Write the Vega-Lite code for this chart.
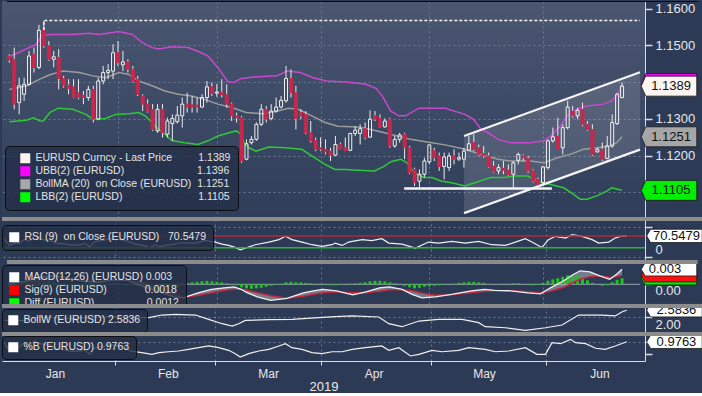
{
"$schema": "https://vega.github.io/schema/vega-lite/v6.json",
"background": "#2c3a56",
"padding": 0,
"spacing": 0,
"bounds": "flush",
"config": {
 "view": {"stroke": null},
 "axis": {"gridColor": "#6a7790", "gridDash": [2, 3], "gridOpacity": 1, "gridWidth": 1, "domainColor": "#dcdcdc", "tickColor": "#dcdcdc", "labelColor": "#e8e8e8", "labelFont": "Liberation Sans", "labelFontSize": 13, "titleFont": "Liberation Sans", "titleFontSize": 13, "titleFontWeight": "normal", "titleColor": "#e8e8e8", "tickSize": 7, "tickWidth": 1.5, "domainWidth": 1},
 "legend": {"labelColor": "#e4e4e4", "labelFont": "Liberation Sans", "labelFontSize": 10.5, "labelLimit": 400, "symbolType": "square", "symbolSize": 100, "symbolStrokeWidth": 0, "symbolOpacity": 1, "fillColor": "rgba(36,48,72,0.82)", "strokeColor": "#0c0e14", "cornerRadius": 4, "padding": 6, "rowPadding": 2, "labelOffset": 5}
},
"resolve": {"scale": {"color": "independent", "fill": "independent", "stroke": "independent"}, "legend": {"color": "independent"}},
"datasets": {
 "candles": [
  {"i":0,"o":1.1471,"h":1.1476,"l":1.1453,"c":1.1460},
  {"i":1,"o":1.1462,"h":1.1494,"l":1.1326,"c":1.1340},
  {"i":2,"o":1.1344,"h":1.1412,"l":1.1312,"c":1.1390},
  {"i":3,"o":1.1367,"h":1.1412,"l":1.1349,"c":1.1394},
  {"i":4,"o":1.1394,"h":1.1485,"l":1.1390,"c":1.1471},
  {"i":5,"o":1.1476,"h":1.1494,"l":1.1426,"c":1.1440},
  {"i":6,"o":1.1440,"h":1.1556,"l":1.1435,"c":1.1541},
  {"i":7,"o":1.1541,"h":1.1567,"l":1.1494,"c":1.1499},
  {"i":8,"o":1.1499,"h":1.1512,"l":1.1458,"c":1.1462},
  {"i":9,"o":1.1462,"h":1.1485,"l":1.1440,"c":1.1469},
  {"i":10,"o":1.1467,"h":1.1490,"l":1.1380,"c":1.1410},
  {"i":11,"o":1.1410,"h":1.1417,"l":1.1385,"c":1.1390},
  {"i":12,"o":1.1392,"h":1.1408,"l":1.1367,"c":1.1383},
  {"i":13,"o":1.1387,"h":1.1408,"l":1.1356,"c":1.1358},
  {"i":14,"o":1.1371,"h":1.1408,"l":1.1353,"c":1.1358},
  {"i":15,"o":1.1364,"h":1.1376,"l":1.1340,"c":1.1358},
  {"i":16,"o":1.1358,"h":1.1390,"l":1.1349,"c":1.1380},
  {"i":17,"o":1.1380,"h":1.1390,"l":1.1290,"c":1.1299},
  {"i":18,"o":1.1299,"h":1.1412,"l":1.1296,"c":1.1403},
  {"i":19,"o":1.1403,"h":1.1444,"l":1.1394,"c":1.1426},
  {"i":20,"o":1.1426,"h":1.1449,"l":1.1408,"c":1.1432},
  {"i":21,"o":1.1430,"h":1.1503,"l":1.1408,"c":1.1480},
  {"i":22,"o":1.1480,"h":1.1512,"l":1.1444,"c":1.1453},
  {"i":23,"o":1.1447,"h":1.1485,"l":1.1430,"c":1.1455},
  {"i":24,"o":1.1455,"h":1.1462,"l":1.1426,"c":1.1435},
  {"i":25,"o":1.1435,"h":1.1444,"l":1.1399,"c":1.1403},
  {"i":26,"o":1.1408,"h":1.1417,"l":1.1362,"c":1.1367},
  {"i":27,"o":1.1362,"h":1.1367,"l":1.1321,"c":1.1340},
  {"i":28,"o":1.1340,"h":1.1353,"l":1.1317,"c":1.1321},
  {"i":29,"o":1.1326,"h":1.1340,"l":1.1267,"c":1.1271},
  {"i":30,"o":1.1267,"h":1.1340,"l":1.1262,"c":1.1326},
  {"i":31,"o":1.1326,"h":1.1340,"l":1.1249,"c":1.1262},
  {"i":32,"o":1.1258,"h":1.1303,"l":1.1249,"c":1.1294},
  {"i":33,"o":1.1287,"h":1.1312,"l":1.1240,"c":1.1301},
  {"i":34,"o":1.1292,"h":1.1335,"l":1.1287,"c":1.1310},
  {"i":35,"o":1.1308,"h":1.1358,"l":1.1276,"c":1.1340},
  {"i":36,"o":1.1340,"h":1.1371,"l":1.1317,"c":1.1332},
  {"i":37,"o":1.1338,"h":1.1362,"l":1.1317,"c":1.1332},
  {"i":38,"o":1.1337,"h":1.1358,"l":1.1317,"c":1.1332},
  {"i":39,"o":1.1332,"h":1.1367,"l":1.1330,"c":1.1358},
  {"i":40,"o":1.1358,"h":1.1403,"l":1.1344,"c":1.1387},
  {"i":41,"o":1.1387,"h":1.1399,"l":1.1362,"c":1.1369},
  {"i":42,"o":1.1370,"h":1.1395,"l":1.1360,"c":1.1373},
  {"i":43,"o":1.1372,"h":1.1408,"l":1.1358,"c":1.1366},
  {"i":44,"o":1.1366,"h":1.1394,"l":1.1330,"c":1.1340},
  {"i":45,"o":1.1340,"h":1.1344,"l":1.1294,"c":1.1308},
  {"i":46,"o":1.1308,"h":1.1317,"l":1.1290,"c":1.1303},
  {"i":47,"o":1.1303,"h":1.1308,"l":1.1180,"c":1.1185},
  {"i":48,"o":1.1190,"h":1.1244,"l":1.1187,"c":1.1232},
  {"i":49,"o":1.1235,"h":1.1253,"l":1.1230,"c":1.1244},
  {"i":50,"o":1.1244,"h":1.1290,"l":1.1240,"c":1.1285},
  {"i":51,"o":1.1285,"h":1.1340,"l":1.1280,"c":1.1326},
  {"i":52,"o":1.1326,"h":1.1335,"l":1.1290,"c":1.1299},
  {"i":53,"o":1.1301,"h":1.1340,"l":1.1296,"c":1.1321},
  {"i":54,"o":1.1321,"h":1.1358,"l":1.1317,"c":1.1332},
  {"i":55,"o":1.1332,"h":1.1362,"l":1.1328,"c":1.1350},
  {"i":56,"o":1.1349,"h":1.1444,"l":1.1344,"c":1.1410},
  {"i":57,"o":1.1410,"h":1.1435,"l":1.1358,"c":1.1371},
  {"i":58,"o":1.1371,"h":1.1390,"l":1.1271,"c":1.1301},
  {"i":59,"o":1.1317,"h":1.1326,"l":1.1299,"c":1.1308},
  {"i":60,"o":1.1312,"h":1.1321,"l":1.1258,"c":1.1262},
  {"i":61,"o":1.1262,"h":1.1294,"l":1.1235,"c":1.1240},
  {"i":62,"o":1.1241,"h":1.1249,"l":1.1212,"c":1.1217},
  {"i":63,"o":1.1221,"h":1.1249,"l":1.1212,"c":1.1217},
  {"i":64,"o":1.1217,"h":1.1244,"l":1.1203,"c":1.1210},
  {"i":65,"o":1.1212,"h":1.1221,"l":1.1185,"c":1.1201},
  {"i":66,"o":1.1201,"h":1.1253,"l":1.1199,"c":1.1230},
  {"i":67,"o":1.1230,"h":1.1235,"l":1.1217,"c":1.1219},
  {"i":68,"o":1.1221,"h":1.1249,"l":1.1212,"c":1.1214},
  {"i":69,"o":1.1214,"h":1.1262,"l":1.1212,"c":1.1260},
  {"i":70,"o":1.1260,"h":1.1280,"l":1.1253,"c":1.1269},
  {"i":71,"o":1.1260,"h":1.1285,"l":1.1230,"c":1.1273},
  {"i":72,"o":1.1273,"h":1.1290,"l":1.1244,"c":1.1249},
  {"i":73,"o":1.1250,"h":1.1323,"l":1.1249,"c":1.1299},
  {"i":74,"o":1.1308,"h":1.1321,"l":1.1294,"c":1.1299},
  {"i":75,"o":1.1301,"h":1.1312,"l":1.1276,"c":1.1278},
  {"i":76,"o":1.1278,"h":1.1301,"l":1.1276,"c":1.1294},
  {"i":77,"o":1.1299,"h":1.1303,"l":1.1221,"c":1.1226},
  {"i":78,"o":1.1226,"h":1.1253,"l":1.1221,"c":1.1244},
  {"i":79,"o":1.1244,"h":1.1262,"l":1.1235,"c":1.1256},
  {"i":80,"o":1.1258,"h":1.1262,"l":1.1190,"c":1.1221},
  {"i":81,"o":1.1221,"h":1.1226,"l":1.1149,"c":1.1153},
  {"i":82,"o":1.1162,"h":1.1167,"l":1.1117,"c":1.1126},
  {"i":83,"o":1.1130,"h":1.1162,"l":1.1112,"c":1.1149},
  {"i":84,"o":1.1149,"h":1.1194,"l":1.1140,"c":1.1185},
  {"i":85,"o":1.1183,"h":1.1230,"l":1.1176,"c":1.1229},
  {"i":86,"o":1.1214,"h":1.1221,"l":1.1185,"c":1.1194},
  {"i":87,"o":1.1199,"h":1.1208,"l":1.1158,"c":1.1170},
  {"i":88,"o":1.1170,"h":1.1208,"l":1.1135,"c":1.1196},
  {"i":89,"o":1.1167,"h":1.1208,"l":1.1158,"c":1.1199},
  {"i":90,"o":1.1199,"h":1.1217,"l":1.1176,"c":1.1190},
  {"i":91,"o":1.1190,"h":1.1208,"l":1.1185,"c":1.1194},
  {"i":92,"o":1.1190,"h":1.1221,"l":1.1167,"c":1.1212},
  {"i":93,"o":1.1214,"h":1.1253,"l":1.1212,"c":1.1232},
  {"i":94,"o":1.1235,"h":1.1258,"l":1.1212,"c":1.1217},
  {"i":95,"o":1.1221,"h":1.1230,"l":1.1199,"c":1.1203},
  {"i":96,"o":1.1205,"h":1.1226,"l":1.1194,"c":1.1199},
  {"i":97,"o":1.1199,"h":1.1208,"l":1.1167,"c":1.1170},
  {"i":98,"o":1.1171,"h":1.1185,"l":1.1153,"c":1.1156},
  {"i":99,"o":1.1158,"h":1.1176,"l":1.1149,"c":1.1167},
  {"i":100,"o":1.1165,"h":1.1185,"l":1.1149,"c":1.1160},
  {"i":101,"o":1.1160,"h":1.1176,"l":1.1144,"c":1.1147},
  {"i":102,"o":1.1149,"h":1.1185,"l":1.1112,"c":1.1180},
  {"i":103,"o":1.1187,"h":1.1208,"l":1.1176,"c":1.1203},
  {"i":104,"o":1.1199,"h":1.1203,"l":1.1185,"c":1.1194},
  {"i":105,"o":1.1192,"h":1.1199,"l":1.1153,"c":1.1158},
  {"i":106,"o":1.1158,"h":1.1162,"l":1.1126,"c":1.1130},
  {"i":107,"o":1.1135,"h":1.1140,"l":1.1120,"c":1.1121},
  {"i":108,"o":1.1126,"h":1.1171,"l":1.1117,"c":1.1169},
  {"i":109,"o":1.1167,"h":1.1244,"l":1.1162,"c":1.1240},
  {"i":110,"o":1.1240,"h":1.1276,"l":1.1235,"c":1.1251},
  {"i":111,"o":1.1253,"h":1.1303,"l":1.1217,"c":1.1217},
  {"i":112,"o":1.1221,"h":1.1285,"l":1.1203,"c":1.1276},
  {"i":113,"o":1.1276,"h":1.1349,"l":1.1271,"c":1.1332},
  {"i":114,"o":1.1321,"h":1.1335,"l":1.1303,"c":1.1308},
  {"i":115,"o":1.1308,"h":1.1330,"l":1.1299,"c":1.1323},
  {"i":116,"o":1.1326,"h":1.1344,"l":1.1280,"c":1.1285},
  {"i":117,"o":1.1285,"h":1.1294,"l":1.1267,"c":1.1271},
  {"i":118,"o":1.1271,"h":1.1285,"l":1.1199,"c":1.1203},
  {"i":119,"o":1.1210,"h":1.1221,"l":1.1208,"c":1.1217},
  {"i":120,"o":1.1217,"h":1.1235,"l":1.1185,"c":1.1190},
  {"i":121,"o":1.1192,"h":1.1253,"l":1.1190,"c":1.1226},
  {"i":122,"o":1.1226,"h":1.1312,"l":1.1221,"c":1.1290},
  {"i":123,"o":1.1287,"h":1.1371,"l":1.1283,"c":1.1367},
  {"i":124,"o":1.1358,"h":1.1399,"l":1.1356,"c":1.1389}
 ],
 "bands": [
  {"s":"UBB(2) (EURUSD)","i":0,"v":1.1469},{"s":"UBB(2) (EURUSD)","i":5.5,"v":1.1503},{"s":"UBB(2) (EURUSD)","i":6.5,"v":1.1526},{"s":"UBB(2) (EURUSD)","i":8.2,"v":1.1530},{"s":"UBB(2) (EURUSD)","i":12.9,"v":1.1530},{"s":"UBB(2) (EURUSD)","i":16.2,"v":1.1533},{"s":"UBB(2) (EURUSD)","i":18.2,"v":1.1530},{"s":"UBB(2) (EURUSD)","i":22.2,"v":1.1538},{"s":"UBB(2) (EURUSD)","i":24.9,"v":1.1530},{"s":"UBB(2) (EURUSD)","i":26.9,"v":1.1508},{"s":"UBB(2) (EURUSD)","i":28.9,"v":1.1494},{"s":"UBB(2) (EURUSD)","i":30.2,"v":1.1490},{"s":"UBB(2) (EURUSD)","i":32.9,"v":1.1496},{"s":"UBB(2) (EURUSD)","i":36.2,"v":1.1494},{"s":"UBB(2) (EURUSD)","i":38.9,"v":1.1480},{"s":"UBB(2) (EURUSD)","i":40.2,"v":1.1471},{"s":"UBB(2) (EURUSD)","i":42.2,"v":1.1440},{"s":"UBB(2) (EURUSD)","i":44.2,"v":1.1401},{"s":"UBB(2) (EURUSD)","i":45.5,"v":1.1399},{"s":"UBB(2) (EURUSD)","i":46.9,"v":1.1410},{"s":"UBB(2) (EURUSD)","i":49.5,"v":1.1414},{"s":"UBB(2) (EURUSD)","i":54.2,"v":1.1417},{"s":"UBB(2) (EURUSD)","i":56.2,"v":1.1430},{"s":"UBB(2) (EURUSD)","i":58.9,"v":1.1426},{"s":"UBB(2) (EURUSD)","i":61.5,"v":1.1412},{"s":"UBB(2) (EURUSD)","i":64.2,"v":1.1403},{"s":"UBB(2) (EURUSD)","i":68.2,"v":1.1400},{"s":"UBB(2) (EURUSD)","i":72.2,"v":1.1394},{"s":"UBB(2) (EURUSD)","i":74.2,"v":1.1383},{"s":"UBB(2) (EURUSD)","i":75.5,"v":1.1362},{"s":"UBB(2) (EURUSD)","i":77.2,"v":1.1321},{"s":"UBB(2) (EURUSD)","i":78.9,"v":1.1308},{"s":"UBB(2) (EURUSD)","i":80.2,"v":1.1308},{"s":"UBB(2) (EURUSD)","i":82.9,"v":1.1329},{"s":"UBB(2) (EURUSD)","i":88.2,"v":1.1329},{"s":"UBB(2) (EURUSD)","i":92.2,"v":1.1312},{"s":"UBB(2) (EURUSD)","i":93.9,"v":1.1299},{"s":"UBB(2) (EURUSD)","i":95.5,"v":1.1271},{"s":"UBB(2) (EURUSD)","i":96.9,"v":1.1262},{"s":"UBB(2) (EURUSD)","i":98.9,"v":1.1244},{"s":"UBB(2) (EURUSD)","i":101.5,"v":1.1235},{"s":"UBB(2) (EURUSD)","i":105.5,"v":1.1235},{"s":"UBB(2) (EURUSD)","i":108.2,"v":1.1240},{"s":"UBB(2) (EURUSD)","i":109.5,"v":1.1253},{"s":"UBB(2) (EURUSD)","i":111.5,"v":1.1280},{"s":"UBB(2) (EURUSD)","i":112.9,"v":1.1308},{"s":"UBB(2) (EURUSD)","i":114.9,"v":1.1326},{"s":"UBB(2) (EURUSD)","i":116.9,"v":1.1335},{"s":"UBB(2) (EURUSD)","i":120.2,"v":1.1340},{"s":"UBB(2) (EURUSD)","i":121.9,"v":1.1349},{"s":"UBB(2) (EURUSD)","i":123.2,"v":1.1367},{"s":"UBB(2) (EURUSD)","i":124,"v":1.1396},
  {"s":"BollMA (20)  on Close (EURUSD)","i":0,"v":1.1380},{"s":"BollMA (20)  on Close (EURUSD)","i":3.5,"v":1.1390},{"s":"BollMA (20)  on Close (EURUSD)","i":6.2,"v":1.1408},{"s":"BollMA (20)  on Close (EURUSD)","i":8.2,"v":1.1420},{"s":"BollMA (20)  on Close (EURUSD)","i":10.9,"v":1.1430},{"s":"BollMA (20)  on Close (EURUSD)","i":14.2,"v":1.1426},{"s":"BollMA (20)  on Close (EURUSD)","i":16.9,"v":1.1417},{"s":"BollMA (20)  on Close (EURUSD)","i":19.5,"v":1.1412},{"s":"BollMA (20)  on Close (EURUSD)","i":22.2,"v":1.1426},{"s":"BollMA (20)  on Close (EURUSD)","i":24.2,"v":1.1421},{"s":"BollMA (20)  on Close (EURUSD)","i":26.2,"v":1.1403},{"s":"BollMA (20)  on Close (EURUSD)","i":28.9,"v":1.1390},{"s":"BollMA (20)  on Close (EURUSD)","i":31.5,"v":1.1376},{"s":"BollMA (20)  on Close (EURUSD)","i":34.2,"v":1.1367},{"s":"BollMA (20)  on Close (EURUSD)","i":36.9,"v":1.1362},{"s":"BollMA (20)  on Close (EURUSD)","i":39.5,"v":1.1353},{"s":"BollMA (20)  on Close (EURUSD)","i":42.2,"v":1.1340},{"s":"BollMA (20)  on Close (EURUSD)","i":45.2,"v":1.1330},{"s":"BollMA (20)  on Close (EURUSD)","i":47.9,"v":1.1317},{"s":"BollMA (20)  on Close (EURUSD)","i":51.2,"v":1.1314},{"s":"BollMA (20)  on Close (EURUSD)","i":53.9,"v":1.1320},{"s":"BollMA (20)  on Close (EURUSD)","i":56.5,"v":1.1329},{"s":"BollMA (20)  on Close (EURUSD)","i":58.5,"v":1.1326},{"s":"BollMA (20)  on Close (EURUSD)","i":61.2,"v":1.1308},{"s":"BollMA (20)  on Close (EURUSD)","i":63.9,"v":1.1290},{"s":"BollMA (20)  on Close (EURUSD)","i":66.5,"v":1.1280},{"s":"BollMA (20)  on Close (EURUSD)","i":70.5,"v":1.1278},{"s":"BollMA (20)  on Close (EURUSD)","i":73.2,"v":1.1271},{"s":"BollMA (20)  on Close (EURUSD)","i":75.9,"v":1.1262},{"s":"BollMA (20)  on Close (EURUSD)","i":78.5,"v":1.1253},{"s":"BollMA (20)  on Close (EURUSD)","i":81.2,"v":1.1244},{"s":"BollMA (20)  on Close (EURUSD)","i":83.9,"v":1.1238},{"s":"BollMA (20)  on Close (EURUSD)","i":88.2,"v":1.1229},{"s":"BollMA (20)  on Close (EURUSD)","i":92.2,"v":1.1217},{"s":"BollMA (20)  on Close (EURUSD)","i":95.5,"v":1.1203},{"s":"BollMA (20)  on Close (EURUSD)","i":98.9,"v":1.1190},{"s":"BollMA (20)  on Close (EURUSD)","i":101.5,"v":1.1185},{"s":"BollMA (20)  on Close (EURUSD)","i":105.5,"v":1.1185},{"s":"BollMA (20)  on Close (EURUSD)","i":108.2,"v":1.1180},{"s":"BollMA (20)  on Close (EURUSD)","i":110.9,"v":1.1194},{"s":"BollMA (20)  on Close (EURUSD)","i":113.5,"v":1.1203},{"s":"BollMA (20)  on Close (EURUSD)","i":116.2,"v":1.1217},{"s":"BollMA (20)  on Close (EURUSD)","i":118.9,"v":1.1221},{"s":"BollMA (20)  on Close (EURUSD)","i":121.5,"v":1.1226},{"s":"BollMA (20)  on Close (EURUSD)","i":122.9,"v":1.1235},{"s":"BollMA (20)  on Close (EURUSD)","i":124,"v":1.1251},
  {"s":"LBB(2) (EURUSD)","i":0,"v":1.1292},{"s":"LBB(2) (EURUSD)","i":3.5,"v":1.1296},{"s":"LBB(2) (EURUSD)","i":4.9,"v":1.1303},{"s":"LBB(2) (EURUSD)","i":6.2,"v":1.1294},{"s":"LBB(2) (EURUSD)","i":6.9,"v":1.1294},{"s":"LBB(2) (EURUSD)","i":8.2,"v":1.1317},{"s":"LBB(2) (EURUSD)","i":9.9,"v":1.1329},{"s":"LBB(2) (EURUSD)","i":12.9,"v":1.1326},{"s":"LBB(2) (EURUSD)","i":15.5,"v":1.1312},{"s":"LBB(2) (EURUSD)","i":16.9,"v":1.1299},{"s":"LBB(2) (EURUSD)","i":19.5,"v":1.1301},{"s":"LBB(2) (EURUSD)","i":21.5,"v":1.1312},{"s":"LBB(2) (EURUSD)","i":24.2,"v":1.1314},{"s":"LBB(2) (EURUSD)","i":26.2,"v":1.1317},{"s":"LBB(2) (EURUSD)","i":27.5,"v":1.1308},{"s":"LBB(2) (EURUSD)","i":28.9,"v":1.1290},{"s":"LBB(2) (EURUSD)","i":30.2,"v":1.1271},{"s":"LBB(2) (EURUSD)","i":31.5,"v":1.1258},{"s":"LBB(2) (EURUSD)","i":32.9,"v":1.1241},{"s":"LBB(2) (EURUSD)","i":35.5,"v":1.1235},{"s":"LBB(2) (EURUSD)","i":38.2,"v":1.1230},{"s":"LBB(2) (EURUSD)","i":40.2,"v":1.1240},{"s":"LBB(2) (EURUSD)","i":42.2,"v":1.1253},{"s":"LBB(2) (EURUSD)","i":44.5,"v":1.1262},{"s":"LBB(2) (EURUSD)","i":45.9,"v":1.1267},{"s":"LBB(2) (EURUSD)","i":46.9,"v":1.1258},{"s":"LBB(2) (EURUSD)","i":47.5,"v":1.1235},{"s":"LBB(2) (EURUSD)","i":48.5,"v":1.1221},{"s":"LBB(2) (EURUSD)","i":49.9,"v":1.1212},{"s":"LBB(2) (EURUSD)","i":52.5,"v":1.1223},{"s":"LBB(2) (EURUSD)","i":55.9,"v":1.1221},{"s":"LBB(2) (EURUSD)","i":59.2,"v":1.1217},{"s":"LBB(2) (EURUSD)","i":61.2,"v":1.1199},{"s":"LBB(2) (EURUSD)","i":63.9,"v":1.1176},{"s":"LBB(2) (EURUSD)","i":65.9,"v":1.1162},{"s":"LBB(2) (EURUSD)","i":67.9,"v":1.1162},{"s":"LBB(2) (EURUSD)","i":70.5,"v":1.1160},{"s":"LBB(2) (EURUSD)","i":73.9,"v":1.1158},{"s":"LBB(2) (EURUSD)","i":75.9,"v":1.1171},{"s":"LBB(2) (EURUSD)","i":77.2,"v":1.1183},{"s":"LBB(2) (EURUSD)","i":79.2,"v":1.1190},{"s":"LBB(2) (EURUSD)","i":80.5,"v":1.1180},{"s":"LBB(2) (EURUSD)","i":81.9,"v":1.1153},{"s":"LBB(2) (EURUSD)","i":83.9,"v":1.1140},{"s":"LBB(2) (EURUSD)","i":85.5,"v":1.1140},{"s":"LBB(2) (EURUSD)","i":87.5,"v":1.1130},{"s":"LBB(2) (EURUSD)","i":89.5,"v":1.1126},{"s":"LBB(2) (EURUSD)","i":92.2,"v":1.1117},{"s":"LBB(2) (EURUSD)","i":94.2,"v":1.1126},{"s":"LBB(2) (EURUSD)","i":96.2,"v":1.1135},{"s":"LBB(2) (EURUSD)","i":97.5,"v":1.1140},{"s":"LBB(2) (EURUSD)","i":100.2,"v":1.1140},{"s":"LBB(2) (EURUSD)","i":102.2,"v":1.1144},{"s":"LBB(2) (EURUSD)","i":104.9,"v":1.1144},{"s":"LBB(2) (EURUSD)","i":106.9,"v":1.1130},{"s":"LBB(2) (EURUSD)","i":109.5,"v":1.1121},{"s":"LBB(2) (EURUSD)","i":112.2,"v":1.1112},{"s":"LBB(2) (EURUSD)","i":114.2,"v":1.1094},{"s":"LBB(2) (EURUSD)","i":115.5,"v":1.1081},{"s":"LBB(2) (EURUSD)","i":116.9,"v":1.1081},{"s":"LBB(2) (EURUSD)","i":118.9,"v":1.1090},{"s":"LBB(2) (EURUSD)","i":120.9,"v":1.1103},{"s":"LBB(2) (EURUSD)","i":121.9,"v":1.1112},{"s":"LBB(2) (EURUSD)","i":123.2,"v":1.1108},{"s":"LBB(2) (EURUSD)","i":124,"v":1.1105}
 ],
 "channel": [{"i":92.03,"lo":1.1043,"hi":1.1253},{"i":127.63,"lo":1.1216,"hi":1.1427}],
 "support": [{"i":79.9,"p":1.1110},{"i":109.8,"p":1.1110}],
 "hiline": [{"k":0,"i":7,"p":1.1542},{"k":1,"i":7,"p":1.1568},{"k":2,"i":127.63,"p":1.1568}],
 "mainTags": [{"k":"UBB","v":1.1396},{"k":"MA","v":1.1251},{"k":"LBB","v":1.1105},{"k":"Last","v":1.1389}],
 "rsi": [
  {"i":0,"v":60},{"i":1,"v":38},{"i":2,"v":45},{"i":3,"v":46},{"i":4,"v":58},{"i":5,"v":52},{"i":6,"v":70},{"i":7,"v":62},{"i":8,"v":56},{"i":9,"v":57},{"i":10,"v":47},{"i":11,"v":44},{"i":12,"v":43},{"i":13,"v":40},{"i":14,"v":40},{"i":15,"v":40},{"i":16,"v":45},{"i":17,"v":33},{"i":18,"v":50},{"i":19,"v":54},{"i":20,"v":55},{"i":21,"v":63},{"i":22,"v":58},{"i":23,"v":58},{"i":24,"v":55},{"i":25,"v":49},{"i":26,"v":43},{"i":27,"v":40},{"i":28,"v":37},{"i":29,"v":30},{"i":30,"v":40},{"i":31,"v":33},{"i":32,"v":38},{"i":33,"v":40},{"i":34,"v":42},{"i":35,"v":47},{"i":36,"v":46},{"i":37,"v":46},{"i":38,"v":46},{"i":39,"v":50},{"i":40,"v":55},{"i":41,"v":51.7},{"i":42,"v":49.3},{"i":43.4,"v":42.4},{"i":44.7,"v":37.9},{"i":46,"v":31},{"i":47,"v":23.1},{"i":48,"v":28.6},{"i":50,"v":40.3},{"i":52.7,"v":49.3},{"i":54.7,"v":57.6},{"i":56,"v":69},{"i":57.3,"v":57.6},{"i":59.3,"v":49.3},{"i":61.3,"v":40.3},{"i":63.3,"v":34.5},{"i":65.3,"v":40.3},{"i":65.9,"v":45.9},{"i":67.3,"v":37.9},{"i":68.6,"v":49.3},{"i":69.3,"v":51.7},{"i":71.3,"v":57.6},{"i":73.2,"v":54.1},{"i":75.2,"v":61},{"i":76.6,"v":45.9},{"i":79.2,"v":42.4},{"i":81.9,"v":28.6},{"i":84.5,"v":49.3},{"i":86.5,"v":45.9},{"i":89.2,"v":51.7},{"i":91.8,"v":45.9},{"i":94.5,"v":51.7},{"i":97.1,"v":40.3},{"i":99.8,"v":37.9},{"i":101.8,"v":49.3},{"i":103.8,"v":61},{"i":105.1,"v":49.3},{"i":107.1,"v":31},{"i":108.4,"v":57.6},{"i":109.8,"v":69},{"i":111.8,"v":63.1},{"i":113.1,"v":74.8},{"i":115.1,"v":69},{"i":117.1,"v":57.6},{"i":118.4,"v":45.9},{"i":120.4,"v":49.3},{"i":121.7,"v":63.1},{"i":122.7,"v":69},{"i":124,"v":70.55}
 ],
 "macd": [
  {"i":0,"m":0.0002,"s":-0.0004},{"i":3,"m":0.0006,"s":0.0000},{"i":6,"m":0.0014,"s":0.0005},{"i":9,"m":0.0018,"s":0.0010},{"i":12,"m":0.0012,"s":0.0013},{"i":15,"m":0.0006,"s":0.0011},{"i":18,"m":0.0004,"s":0.0009},{"i":21,"m":0.0009,"s":0.0008},{"i":24,"m":0.0008,"s":0.0009},{"i":27,"m":-0.0004,"s":0.0005},{"i":30,"m":-0.0014,"s":-0.0002},{"i":33,"m":-0.0024,"s":-0.0012},{"i":35.2,"m":-0.0027,"s":-0.0026},{"i":38.2,"m":-0.0017,"s":-0.0022},{"i":40.9,"m":-0.0010,"s":-0.0017},{"i":43.5,"m":-0.0007,"s":-0.0012},{"i":45.5,"m":-0.0005,"s":-0.0010},{"i":46.9,"m":-0.0010,"s":-0.0010},{"i":48.2,"m":-0.0017,"s":-0.0012},{"i":50.2,"m":-0.0025,"s":-0.0017},{"i":52.9,"m":-0.0032,"s":-0.0023},{"i":56.2,"m":-0.0028,"s":-0.0028},{"i":59.5,"m":-0.0017,"s":-0.0024},{"i":61.5,"m":-0.0013,"s":-0.0020},{"i":63.5,"m":-0.0010,"s":-0.0017},{"i":66.2,"m":-0.0013,"s":-0.0015},{"i":69.5,"m":-0.0021,"s":-0.0017},{"i":72.2,"m":-0.0015,"s":-0.0017},{"i":74.9,"m":-0.0007,"s":-0.0014},{"i":76.9,"m":-0.0005,"s":-0.0011},{"i":79.5,"m":-0.0010,"s":-0.0011},{"i":81.5,"m":-0.0020,"s":-0.0013},{"i":83.5,"m":-0.0027,"s":-0.0018},{"i":86.2,"m":-0.0025,"s":-0.0022},{"i":89.5,"m":-0.0020,"s":-0.0021},{"i":93.5,"m":-0.0013,"s":-0.0017},{"i":96.2,"m":-0.0010,"s":-0.0014},{"i":98.2,"m":-0.0012,"s":-0.0013},{"i":101.5,"m":-0.0013,"s":-0.0013},{"i":104.9,"m":-0.0017,"s":-0.0015},{"i":107.5,"m":-0.0019,"s":-0.0017},{"i":109.5,"m":-0.0007,"s":-0.0014},{"i":112.2,"m":0.0007,"s":-0.0006},{"i":114.2,"m":0.0020,"s":0.0004},{"i":115.5,"m":0.0027,"s":0.0010},{"i":117.5,"m":0.0025,"s":0.0015},{"i":119.5,"m":0.0017,"s":0.0017},{"i":121.5,"m":0.0010,"s":0.0014},{"i":122.9,"m":0.0020,"s":0.0015},{"i":124,"m":0.0030,"s":0.0018}
 ],
 "hist": [
  {"i":0,"d":0.0004},{"i":1,"d":0.0003},{"i":2,"d":0.0003},{"i":3,"d":0.0004},{"i":4,"d":0.0005},{"i":5,"d":0.0006},{"i":6,"d":0.0008},{"i":7,"d":0.0009},{"i":8,"d":0.0008},{"i":9,"d":0.0006},{"i":10,"d":0.0003},{"i":11,"d":0.0001},{"i":12,"d":-0.0001},{"i":13,"d":-0.0003},{"i":14,"d":-0.0004},{"i":15,"d":-0.0005},{"i":16,"d":-0.0005},{"i":17,"d":-0.0006},{"i":18,"d":-0.0004},{"i":19,"d":-0.0002},{"i":20,"d":0.0000},{"i":21,"d":0.0002},{"i":22,"d":0.0002},{"i":23,"d":0.0001},{"i":24,"d":0.0000},{"i":25,"d":-0.0002},{"i":26,"d":-0.0003},{"i":27,"d":-0.0005},{"i":28,"d":-0.0006},{"i":29,"d":-0.0008},{"i":30,"d":-0.0009},{"i":31,"d":-0.0010},{"i":32,"d":-0.0010},{"i":33,"d":-0.0008},{"i":34,"d":-0.0005},
  {"i":35,"d":0.0002},{"i":36,"d":0.0003},{"i":37,"d":0.0004},{"i":38,"d":0.0005},{"i":39,"d":0.0006},{"i":40,"d":0.0007},{"i":41,"d":0.0006},{"i":42,"d":0.0005},{"i":43,"d":0.0004},{"i":44,"d":0.0002},{"i":45,"d":0.0000},{"i":46,"d":-0.0002},{"i":47,"d":-0.0006},{"i":48,"d":-0.0008},{"i":49,"d":-0.0009},{"i":50,"d":-0.0008},{"i":51,"d":-0.0007},{"i":52,"d":-0.0005},{"i":53,"d":-0.0003},{"i":54,"d":-0.0001},{"i":55,"d":0.0001},{"i":56,"d":0.0004},{"i":57,"d":0.0005},{"i":58,"d":0.0004},{"i":59,"d":0.0004},{"i":60,"d":0.0003},{"i":61,"d":0.0002},{"i":62,"d":0.0001},{"i":63,"d":0.0000},{"i":64,"d":-0.0001},{"i":65,"d":-0.0002},{"i":66,"d":-0.0002},{"i":67,"d":-0.0001},{"i":68,"d":0.0000},{"i":69,"d":0.0001},{"i":70,"d":0.0002},{"i":71,"d":0.0003},{"i":72,"d":0.0004},{"i":73,"d":0.0006},{"i":74,"d":0.0007},{"i":75,"d":0.0007},{"i":76,"d":0.0006},{"i":77,"d":0.0004},{"i":78,"d":0.0002},{"i":79,"d":0.0000},{"i":80,"d":-0.0003},{"i":81,"d":-0.0006},{"i":82,"d":-0.0008},{"i":83,"d":-0.0007},{"i":84,"d":-0.0005},{"i":85,"d":-0.0004},{"i":86,"d":-0.0003},{"i":87,"d":-0.0002},{"i":88,"d":-0.0001},{"i":89,"d":0.0000},{"i":90,"d":0.0001},{"i":91,"d":0.0003},{"i":92,"d":0.0004},{"i":93,"d":0.0005},{"i":94,"d":0.0005},{"i":95,"d":0.0004},{"i":96,"d":0.0003},{"i":97,"d":0.0001},{"i":98,"d":0.0000},{"i":99,"d":-0.0001},{"i":100,"d":0.0000},{"i":101,"d":0.0001},{"i":102,"d":0.0002},{"i":103,"d":0.0002},{"i":104,"d":0.0000},{"i":105,"d":-0.0001},{"i":106,"d":-0.0002},{"i":107,"d":-0.0001},{"i":108,"d":0.0003},{"i":109,"d":0.0007},{"i":110,"d":0.0010},{"i":111,"d":0.0012},{"i":112,"d":0.0015},{"i":113,"d":0.0018},{"i":114,"d":0.0019},{"i":115,"d":0.0016},{"i":116,"d":0.0012},{"i":117,"d":0.0008},{"i":118,"d":0.0003},{"i":119,"d":0.0000},{"i":120,"d":-0.0003},{"i":121,"d":-0.0002},{"i":122,"d":0.0004},{"i":123,"d":0.0009},{"i":124,"d":0.0012}
 ],
 "bw": [
  {"i":0,"v":1.70},{"i":2,"v":1.70},{"i":4,"v":1.68},{"i":6,"v":1.95},{"i":8,"v":2.0},{"i":10,"v":1.95},{"i":13,"v":1.85},{"i":16,"v":1.95},{"i":19,"v":2.0},{"i":22,"v":2.02},{"i":25,"v":1.95},{"i":28.8,"v":1.94},{"i":31.4,"v":2.17},{"i":34.1,"v":2.23},{"i":38.1,"v":2.17},{"i":40.7,"v":1.80},{"i":43.4,"v":1.42},{"i":45.4,"v":1.22},{"i":46.7,"v":1.42},{"i":48,"v":1.71},{"i":52.7,"v":1.77},{"i":57.3,"v":1.80},{"i":62.6,"v":1.94},{"i":65.9,"v":2.03},{"i":69.3,"v":2.09},{"i":74.6,"v":2.0},{"i":76.6,"v":1.42},{"i":79.2,"v":1.16},{"i":82.6,"v":1.65},{"i":86.5,"v":1.80},{"i":91.2,"v":1.80},{"i":94.5,"v":1.51},{"i":95.8,"v":1.16},{"i":99.8,"v":1.07},{"i":103.8,"v":0.85},{"i":107.8,"v":1.07},{"i":111.1,"v":1.31},{"i":114.4,"v":2.17},{"i":119.1,"v":2.17},{"i":121.7,"v":2.09},{"i":123.1,"v":2.46},{"i":124,"v":2.5836}
 ],
 "pb": [
  {"i":0,"v":0.95},{"i":1,"v":0.25},{"i":2,"v":0.55},{"i":3,"v":0.6},{"i":4,"v":0.9},{"i":5,"v":0.7},{"i":6,"v":1.05},{"i":7,"v":0.85},{"i":8,"v":0.75},{"i":9,"v":0.75},{"i":10,"v":0.45},{"i":11,"v":0.4},{"i":12,"v":0.35},{"i":13,"v":0.25},{"i":14,"v":0.25},{"i":15,"v":0.25},{"i":16,"v":0.35},{"i":17,"v":0.0},{"i":18,"v":0.48},{"i":19,"v":0.6},{"i":20,"v":0.6},{"i":21,"v":0.8},{"i":22,"v":0.68},{"i":23,"v":0.68},{"i":24,"v":0.6},{"i":25.1,"v":0.26},{"i":27.4,"v":0.13},{"i":29.4,"v":0.0},{"i":30.8,"v":0.13},{"i":32.7,"v":0.2},{"i":34.7,"v":0.26},{"i":36.7,"v":0.39},{"i":38.7,"v":0.52},{"i":40.7,"v":0.65},{"i":42.7,"v":0.52},{"i":44.7,"v":0.31},{"i":46,"v":0.05},{"i":47,"v":-0.21},{"i":48.7,"v":0.05},{"i":50.7,"v":0.26},{"i":52.7,"v":0.39},{"i":54.7,"v":0.65},{"i":56,"v":0.83},{"i":57.3,"v":0.52},{"i":59.3,"v":0.39},{"i":61.3,"v":0.13},{"i":63.3,"v":0.05},{"i":65.3,"v":0.2},{"i":67.3,"v":0.2},{"i":69.3,"v":0.39},{"i":71.9,"v":0.52},{"i":75.2,"v":0.65},{"i":76.6,"v":0.31},{"i":78.6,"v":0.52},{"i":80.9,"v":-0.13},{"i":82.6,"v":0.0},{"i":85.2,"v":0.31},{"i":87.2,"v":0.2},{"i":90.5,"v":0.31},{"i":92.5,"v":0.52},{"i":95.8,"v":0.39},{"i":97.8,"v":0.2},{"i":100.5,"v":0.26},{"i":103.8,"v":0.52},{"i":106.1,"v":0.0},{"i":107.8,"v":0.0},{"i":109.1,"v":0.91},{"i":110.8,"v":0.83},{"i":112.8,"v":1.17},{"i":113.8,"v":0.91},{"i":115.8,"v":0.83},{"i":117.8,"v":0.47},{"i":119.7,"v":0.39},{"i":121.7,"v":0.65},{"i":124,"v":0.9763}
 ]
},
"vconcat": [
 {
  "width": 643, "height": 218,
  "view": {"stroke": null, "fill": {"gradient": "linear", "x1": 0, "y1": 0, "x2": 0, "y2": 1, "stops": [{"offset": 0, "color": "#4b5771"}, {"offset": 1, "color": "#2f3d59"}]}},
  "data": {"name": "candles"},
  "layer": [
   {"data": {"name": "channel"}, "mark": {"type": "area", "color": "#ffffff", "opacity": 0.13},
    "encoding": {"x": {"field": "i", "type": "quantitative", "scale": {"domain": [-0.46, 127.63], "nice": false, "zero": false}, "axis": {"grid": true, "values": [22, 42, 63, 85, 108], "labels": false, "ticks": false, "domain": false, "title": null}},
     "y": {"field": "lo", "type": "quantitative", "scale": {"domain": [1.1027, 1.1621], "nice": false, "zero": false}, "axis": {"orient": "right", "values": [1.11, 1.12, 1.13, 1.14, 1.15, 1.16], "labelExpr": "abs(datum.value - 1.14) < 0.001 || abs(datum.value - 1.11) < 0.001 ? '' : format(datum.value, '.4f')", "grid": true, "gridOpacity": {"condition": {"test": "datum.value > 1.155", "value": 0}, "value": 1}, "title": null, "labelPadding": 3}}, "y2": {"field": "hi"}}},
   {"data": {"values": [{}]}, "mark": {"type": "rule", "color": "#0a0a0a", "strokeWidth": 1.2},
    "encoding": {"x": {"datum": -0.46, "type": "quantitative"}, "x2": {"datum": 139.3}, "y": {"datum": 1.16196, "type": "quantitative"}}},
   {"data": {"name": "bands"}, "mark": {"type": "line", "strokeWidth": 1.5},
    "encoding": {"x": {"field": "i", "type": "quantitative"}, "y": {"field": "v", "type": "quantitative"},
     "stroke": {"field": "s", "type": "nominal", "scale": {"domain": ["UBB(2) (EURUSD)", "BollMA (20)  on Close (EURUSD)", "LBB(2) (EURUSD)"], "range": ["#c848cc", "#9c9c9c", "#2fc83a"]}, "legend": null}}},
   {"data": {"name": "bands"}, "mark": {"type": "square", "filled": true, "opacity": 0},
    "encoding": {"x": {"field": "i", "type": "quantitative"}, "y": {"field": "v", "type": "quantitative"},
     "color": {"field": "s", "type": "nominal",
      "scale": {"domain": ["EURUSD Curncy - Last Price", "UBB(2) (EURUSD)", "BollMA (20)  on Close (EURUSD)", "LBB(2) (EURUSD)"], "range": ["#fff4ee", "#ff00ff", "#a6a6a6", "#00ff00"]},
      "legend": {"title": null, "orient": "none", "legendX": 3, "legendY": 145, "symbolOffset": 8, "padding": 7,
       "labelExpr": "datum.label == 'EURUSD Curncy - Last Price' ? 'EURUSD Curncy - Last Price\u00a0\u00a0\u00a0\u00a0\u00a0\u00a0\u00a0\u00a0\u00a01.1389' : datum.label == 'UBB(2) (EURUSD)' ? 'UBB(2) (EURUSD)\u00a0\u00a0\u00a0\u00a0\u00a0\u00a0\u00a0\u00a0\u00a0\u00a0\u00a0\u00a0\u00a0\u00a0\u00a0\u00a0\u00a0\u00a0\u00a0\u00a0\u00a0\u00a0\u00a0\u00a0\u00a01.1396' : datum.label == 'LBB(2) (EURUSD)' ? 'LBB(2) (EURUSD)\u00a0\u00a0\u00a0\u00a0\u00a0\u00a0\u00a0\u00a0\u00a0\u00a0\u00a0\u00a0\u00a0\u00a0\u00a0\u00a0\u00a0\u00a0\u00a0\u00a0\u00a0\u00a0\u00a0\u00a0\u00a0\u00a01.1105' : 'BollMA (20)\u00a0 on Close (EURUSD)\u00a0\u00a01.1251'"}}}},
   {"mark": {"type": "rule", "color": "#ececec", "strokeWidth": 1},
    "encoding": {"x": {"field": "i", "type": "quantitative"}, "y": {"field": "h", "type": "quantitative"}, "y2": {"field": "c"}}},
   {"mark": {"type": "rule", "color": "#ececec", "strokeWidth": 1},
    "encoding": {"x": {"field": "i", "type": "quantitative"}, "y": {"field": "o", "type": "quantitative"}, "y2": {"field": "l"}}},
   {"mark": {"type": "bar", "size": 3, "strokeWidth": 1},
    "encoding": {"x": {"field": "i", "type": "quantitative"}, "y": {"field": "o", "type": "quantitative"}, "y2": {"field": "c"},
     "color": {"condition": {"test": "datum.c < datum.o", "value": "#c8284c"}, "value": "transparent"},
     "stroke": {"condition": {"test": "datum.c < datum.o", "value": "#c8284c"}, "value": "#f0f0f0"}}},
   {"data": {"name": "channel"}, "mark": {"type": "line", "color": "#f4f4f4", "strokeWidth": 2.2},
    "encoding": {"x": {"field": "i", "type": "quantitative"}, "y": {"field": "hi", "type": "quantitative"}}},
   {"data": {"name": "channel"}, "mark": {"type": "line", "color": "#f4f4f4", "strokeWidth": 2.2},
    "encoding": {"x": {"field": "i", "type": "quantitative"}, "y": {"field": "lo", "type": "quantitative"}}},
   {"data": {"name": "support"}, "mark": {"type": "line", "color": "#f4f4f4", "strokeWidth": 2.5},
    "encoding": {"x": {"field": "i", "type": "quantitative"}, "y": {"field": "p", "type": "quantitative"}}},
   {"data": {"name": "hiline"}, "mark": {"type": "line", "color": "#f4f4f4", "strokeWidth": 1.5, "strokeDash": [3, 2]},
    "encoding": {"x": {"field": "i", "type": "quantitative"}, "y": {"field": "p", "type": "quantitative"}, "order": {"field": "k"}}},
   {"data": {"name": "mainTags"}, "mark": {"type": "point", "shape": "M-1,0L-0.84,-0.36L1,-0.36L1,0.36L-0.84,0.36Z", "size": 3080, "filled": true, "opacity": 1, "stroke": "#1a1a1a", "strokeWidth": 0.8},
    "encoding": {"x": {"datum": 133.5, "type": "quantitative"}, "y": {"field": "v", "type": "quantitative"},
     "fill": {"field": "k", "type": "nominal", "scale": {"domain": ["UBB", "MA", "LBB", "Last"], "range": ["#ff00ff", "#a6a6a6", "#00ee00", "#fff5f0"]}, "legend": null}}},
   {"data": {"name": "mainTags"}, "transform": [{"filter": "datum.k != 'UBB'"}], "mark": {"type": "text", "font": "Liberation Sans", "fontSize": 13, "color": "#111111", "align": "center", "baseline": "middle", "dx": 2},
    "encoding": {"x": {"datum": 133.5, "type": "quantitative"}, "y": {"field": "v", "type": "quantitative"}, "text": {"field": "v", "format": ".4f"}}}
  ]
 },
 {
  "width": 643, "height": 43,
  "view": {"stroke": null, "fill": "#2c3a56"},
  "data": {"name": "rsi"},
  "layer": [
   {"mark": {"type": "line", "color": "#f0f0f0", "strokeWidth": 1.2},
    "encoding": {"x": {"field": "i", "type": "quantitative", "scale": {"domain": [-0.46, 127.63], "nice": false, "zero": false}, "axis": {"grid": true, "values": [22, 42, 63, 85, 108], "labels": false, "ticks": false, "domain": false, "title": null}},
     "y": {"field": "v", "type": "quantitative", "scale": {"domain": [-18.8, 128.2], "nice": false, "zero": false}, "axis": {"orient": "right", "values": [0, 100], "labelExpr": "datum.value == 0 ? '0' : ''", "labelBaseline": "bottom", "grid": true, "title": null, "labelPadding": 3}}}},
   {"data": {"values": [{}]}, "mark": {"type": "rule", "color": "#b02838", "strokeWidth": 1.5},
    "encoding": {"x": {"datum": -0.46, "type": "quantitative"}, "x2": {"datum": 127.63}, "y": {"datum": 70, "type": "quantitative"}}},
   {"data": {"values": [{}]}, "mark": {"type": "rule", "color": "#2bb52b", "strokeWidth": 1.5},
    "encoding": {"x": {"datum": -0.46, "type": "quantitative"}, "x2": {"datum": 127.63}, "y": {"datum": 30, "type": "quantitative"}}},
   {"mark": {"type": "square", "filled": true, "opacity": 0},
    "encoding": {"x": {"field": "i", "type": "quantitative"}, "y": {"field": "v", "type": "quantitative"},
     "color": {"datum": "RSI (9)  on Close (EURUSD)", "type": "nominal", "scale": {"domain": ["RSI (9)  on Close (EURUSD)"], "range": ["#ffffff"]},
      "legend": {"title": null, "orient": "none", "legendX": 0, "legendY": 6, "padding": 7, "labelExpr": "'RSI (9)\u00a0 on Close (EURUSD)\u00a0\u00a0\u00a070.5479'"}}}},
   {"data": {"values": [{}]}, "mark": {"type": "point", "shape": "M-1,0L-0.86,-0.24L1,-0.24L1,0.24L-0.86,0.24Z", "size": 3080, "filled": true, "opacity": 1, "fill": "#ffffff", "stroke": "#1a1a1a", "strokeWidth": 0.8},
    "encoding": {"x": {"datum": 133.5, "type": "quantitative"}, "y": {"datum": 70.5479, "type": "quantitative"}}},
   {"data": {"values": [{}]}, "mark": {"type": "text", "font": "Liberation Sans", "fontSize": 13, "color": "#111111", "align": "center", "baseline": "middle", "dx": 2},
    "encoding": {"x": {"datum": 133.5, "type": "quantitative"}, "y": {"datum": 70.5479, "type": "quantitative"}, "text": {"value": "70.5479"}}},
   {"data": {"values": [{}]}, "mark": {"type": "rule", "color": "#8c8c8c", "strokeWidth": 4},
    "encoding": {"x": {"datum": -0.46, "type": "quantitative"}, "x2": {"datum": 139.3}, "y": {"datum": 128.2, "type": "quantitative"}}}
  ]
 },
 {
  "width": 643, "height": 44,
  "view": {"stroke": null, "fill": "#2c3a56"},
  "data": {"name": "macd"},
  "layer": [
   {"data": {"values": [{}]}, "mark": {"type": "rule", "color": "#9aa3b0", "strokeWidth": 1},
    "encoding": {"x": {"datum": -0.46, "type": "quantitative", "scale": {"domain": [-0.46, 127.63], "nice": false, "zero": false}, "axis": {"grid": true, "values": [22, 42, 63, 85, 108], "labels": false, "ticks": false, "domain": false, "title": null}}, "x2": {"datum": 127.63},
     "y": {"datum": 0, "type": "quantitative", "scale": {"domain": [-0.00434, 0.00446], "nice": false, "zero": false}, "axis": {"orient": "right", "values": [0], "format": ".2f", "labelBaseline": "top", "grid": false, "title": null, "labelPadding": 3}}}},
   {"mark": {"type": "area", "color": "#d0d0d0", "opacity": 0.45},
    "encoding": {"x": {"field": "i", "type": "quantitative"}, "y": {"field": "m", "type": "quantitative"}, "y2": {"field": "s"}}},
   {"data": {"name": "hist"}, "mark": {"type": "bar", "size": 3, "color": "#1fc21f"},
    "encoding": {"x": {"field": "i", "type": "quantitative"}, "y": {"field": "d", "type": "quantitative"}, "y2": {"datum": 0}}},
   {"mark": {"type": "line", "color": "#c4283c", "strokeWidth": 1.6},
    "encoding": {"x": {"field": "i", "type": "quantitative"}, "y": {"field": "s", "type": "quantitative"}}},
   {"mark": {"type": "line", "color": "#f0f0f0", "strokeWidth": 1.3},
    "encoding": {"x": {"field": "i", "type": "quantitative"}, "y": {"field": "m", "type": "quantitative"}}},
   {"mark": {"type": "square", "filled": true, "opacity": 0},
    "encoding": {"x": {"field": "i", "type": "quantitative"}, "y": {"field": "m", "type": "quantitative"},
     "color": {"datum": "MACD(12,26) (EURUSD)", "type": "nominal", "scale": {"domain": ["MACD(12,26) (EURUSD)", "Sig(9) (EURUSD)", "Diff (EURUSD)"], "range": ["#ffffff", "#ff0000", "#00ff00"]},
      "legend": {"title": null, "orient": "none", "legendX": 0, "legendY": 3, "padding": 7,
       "labelExpr": "datum.label == 'MACD(12,26) (EURUSD)' ? 'MACD(12,26) (EURUSD)\u00a00.003' : datum.label == 'Sig(9) (EURUSD)' ? 'Sig(9) (EURUSD)\u00a0\u00a0\u00a0\u00a0\u00a0\u00a0\u00a0\u00a0\u00a0\u00a0\u00a0\u00a0\u00a00.0018' : 'Diff (EURUSD)\u00a0\u00a0\u00a0\u00a0\u00a0\u00a0\u00a0\u00a0\u00a0\u00a0\u00a0\u00a0\u00a0\u00a0\u00a0\u00a0\u00a0\u00a00.0012'"}}}},
   {"data": {"values": [{"k": "D", "v": 0.0012}, {"k": "S", "v": 0.0018}, {"k": "M", "v": 0.003}]}, "mark": {"type": "point", "shape": "M-1,0L-0.86,-0.24L1,-0.24L1,0.24L-0.86,0.24Z", "size": 3080, "filled": true, "opacity": 1, "stroke": "#1a1a1a", "strokeWidth": 0.8},
    "encoding": {"x": {"datum": 133.5, "type": "quantitative"}, "y": {"field": "v", "type": "quantitative"},
     "fill": {"field": "k", "type": "nominal", "scale": {"domain": ["D", "S", "M"], "range": ["#00ee00", "#ff1010", "#ffffff"]}, "legend": null}}},
   {"data": {"values": [{}]}, "mark": {"type": "text", "font": "Liberation Sans", "fontSize": 13, "color": "#111111", "align": "center", "baseline": "middle", "dx": -4},
    "encoding": {"x": {"datum": 133.5, "type": "quantitative"}, "y": {"datum": 0.003, "type": "quantitative"}, "text": {"value": "0.003"}}},
   {"data": {"values": [{}]}, "mark": {"type": "rule", "color": "#8c8c8c", "strokeWidth": 4},
    "encoding": {"x": {"datum": -0.46, "type": "quantitative"}, "x2": {"datum": 139.3}, "y": {"datum": 0.00446, "type": "quantitative"}}}
  ]
 },
 {
  "width": 643, "height": 28,
  "view": {"stroke": null, "fill": "#2c3a56"},
  "data": {"name": "bw"},
  "layer": [
   {"mark": {"type": "line", "color": "#f0f0f0", "strokeWidth": 1.2},
    "encoding": {"x": {"field": "i", "type": "quantitative", "scale": {"domain": [-0.46, 127.63], "nice": false, "zero": false}, "axis": {"grid": true, "values": [22, 42, 63, 85, 108], "labels": false, "ticks": false, "domain": false, "title": null}},
     "y": {"field": "v", "type": "quantitative", "scale": {"domain": [0.528, 2.952], "nice": false, "zero": false}, "axis": {"orient": "right", "values": [2], "format": ".2f", "labelBaseline": "top", "labelOffset": 2, "grid": true, "title": null, "labelPadding": 3}}}},
   {"mark": {"type": "square", "filled": true, "opacity": 0},
    "encoding": {"x": {"field": "i", "type": "quantitative"}, "y": {"field": "v", "type": "quantitative"},
     "color": {"datum": "BollW (EURUSD)", "type": "nominal", "scale": {"domain": ["BollW (EURUSD)"], "range": ["#ffffff"]},
      "legend": {"title": null, "orient": "none", "legendX": 0, "legendY": 3, "padding": 6, "labelExpr": "'BollW (EURUSD)\u00a02.5836'"}}}},
   {"data": {"values": [{}]}, "mark": {"type": "point", "shape": "M-1,0L-0.86,-0.24L1,-0.24L1,0.24L-0.86,0.24Z", "size": 3080, "filled": true, "opacity": 1, "fill": "#ffffff", "stroke": "#1a1a1a", "strokeWidth": 0.8},
    "encoding": {"x": {"datum": 133.5, "type": "quantitative"}, "y": {"datum": 2.5836, "type": "quantitative"}}},
   {"data": {"values": [{}]}, "mark": {"type": "text", "font": "Liberation Sans", "fontSize": 13, "color": "#111111", "align": "center", "baseline": "middle", "dx": 2},
    "encoding": {"x": {"datum": 133.5, "type": "quantitative"}, "y": {"datum": 2.5836, "type": "quantitative"}, "text": {"value": "2.5836"}}},
   {"data": {"values": [{}]}, "mark": {"type": "rule", "color": "#8c8c8c", "strokeWidth": 4},
    "encoding": {"x": {"datum": -0.46, "type": "quantitative"}, "x2": {"datum": 139.3}, "y": {"datum": 2.952, "type": "quantitative"}}}
  ]
 },
 {
  "width": 643, "height": 27,
  "view": {"stroke": null, "fill": "#2c3a56"},
  "data": {"name": "pb"},
  "layer": [
   {"mark": {"type": "line", "color": "#f0f0f0", "strokeWidth": 1.2},
    "encoding": {"x": {"field": "i", "type": "quantitative", "scale": {"domain": [-0.46, 127.63], "nice": false, "zero": false},
      "axis": {"values": [-0.46, 22, 42, 63, 85, 108], "labelExpr": "datum.value < 0 ? 'Jan' : datum.value < 30 ? 'Feb' : datum.value < 50 ? 'Mar' : datum.value < 70 ? 'Apr' : datum.value < 90 ? 'May' : 'Jun'", "labelOffset": 53, "labelFlush": false, "labelFontSize": 12, "labelPadding": 3, "grid": true, "gridOpacity": {"condition": {"test": "datum.value < 0", "value": 0}, "value": 1}, "tickOpacity": {"condition": {"test": "datum.value < 0", "value": 0}, "value": 1}, "tickSize": 4, "tickWidth": 1, "labelOverlap": false, "title": "2019", "titleFontSize": 13, "titlePadding": 1}},
     "y": {"field": "v", "type": "quantitative", "scale": {"domain": [-0.523, 1.586], "nice": false, "zero": false}, "axis": {"orient": "right", "values": [0, 1], "labelExpr": "''", "grid": true, "gridOpacity": {"condition": {"test": "datum.value < 0.5", "value": 0}, "value": 1}, "title": null}}}},
   {"mark": {"type": "square", "filled": true, "opacity": 0},
    "encoding": {"x": {"field": "i", "type": "quantitative"}, "y": {"field": "v", "type": "quantitative"},
     "color": {"datum": "%B (EURUSD)", "type": "nominal", "scale": {"domain": ["%B (EURUSD)"], "range": ["#ffffff"]},
      "legend": {"title": null, "orient": "none", "legendX": 0, "legendY": 2, "padding": 6, "labelExpr": "'%B (EURUSD)\u00a00.9763'"}}}},
   {"data": {"values": [{}]}, "mark": {"type": "point", "shape": "M-1,0L-0.86,-0.24L1,-0.24L1,0.24L-0.86,0.24Z", "size": 3080, "filled": true, "opacity": 1, "fill": "#ffffff", "stroke": "#1a1a1a", "strokeWidth": 0.8},
    "encoding": {"x": {"datum": 133.5, "type": "quantitative"}, "y": {"datum": 0.9763, "type": "quantitative"}}},
   {"data": {"values": [{}]}, "mark": {"type": "text", "font": "Liberation Sans", "fontSize": 13, "color": "#111111", "align": "center", "baseline": "middle", "dx": 2},
    "encoding": {"x": {"datum": 133.5, "type": "quantitative"}, "y": {"datum": 0.9763, "type": "quantitative"}, "text": {"value": "0.9763"}}},
   {"data": {"values": [{}]}, "mark": {"type": "rule", "color": "#8c8c8c", "strokeWidth": 4},
    "encoding": {"x": {"datum": -0.46, "type": "quantitative"}, "x2": {"datum": 139.3}, "y": {"datum": 1.586, "type": "quantitative"}}}
  ]
 }
]
}
